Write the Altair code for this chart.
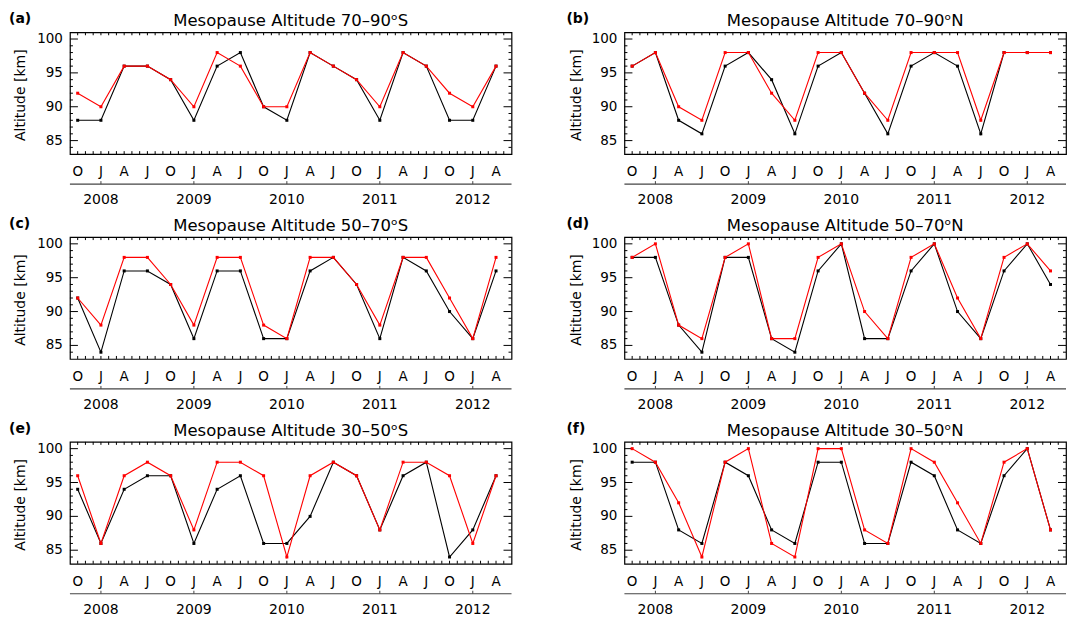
import altair as alt
import pandas as pd

FONT = "DejaVu Sans"
W, H = 442, 122

# ---- data -------------------------------------------------------------
quarter_labels = ["O", "J", "A", "J", "O", "J", "A", "J", "O", "J",
                  "A", "J", "O", "J", "A", "J", "O", "J", "A"]
quarter_months = [0, 3, 6, 9, 12, 15, 18, 21, 24, 27,
                  30, 33, 36, 39, 42, 45, 48, 51, 54]
year_labels = ["2008", "2009", "2010", "2011", "2012"]
year_months = [3, 15, 27, 39, 51]
y_tick_values = [85, 90, 95, 100]
month_ticks = list(range(0, 56))
km_minor = [84, 86, 87, 88, 89, 91, 92, 93, 94, 96, 97, 98, 99]

tags = ["(a)", "(b)", "(c)", "(d)", "(e)", "(f)"]
titles = ["Mesopause Altitude 70–90ᵒS", "Mesopause Altitude 70–90ᵒN",
          "Mesopause Altitude 50–70ᵒS", "Mesopause Altitude 50–70ᵒN",
          "Mesopause Altitude 30–50ᵒS", "Mesopause Altitude 30–50ᵒN"]

a_black = [88, 88, 96, 96, 94, 88, 96, 98, 90, 88, 98, 96, 94, 88, 98, 96, 88, 88, 96]
a_red = [92, 90, 96, 96, 94, 90, 98, 96, 90, 90, 98, 96, 94, 90, 98, 96, 92, 90, 96]
b_black = [96, 98, 88, 86, 96, 98, 94, 86, 96, 98, 92, 86, 96, 98, 96, 86, 98, 98, 98]
b_red = [96, 98, 90, 88, 98, 98, 92, 88, 98, 98, 92, 88, 98, 98, 98, 88, 98, 98, 98]
c_black = [92, 84, 96, 96, 94, 86, 96, 96, 86, 86, 96, 98, 94, 86, 98, 96, 90, 86, 96]
c_red = [92, 88, 98, 98, 94, 88, 98, 98, 88, 86, 98, 98, 94, 88, 98, 98, 92, 86, 98]
d_black = [98, 98, 88, 84, 98, 98, 86, 84, 96, 100, 86, 86, 96, 100, 90, 86, 96, 100, 94]
d_red = [98, 100, 88, 86, 98, 100, 86, 86, 98, 100, 90, 86, 98, 100, 92, 86, 98, 100, 96]
e_black = [94, 86, 94, 96, 96, 86, 94, 96, 86, 86, 90, 98, 96, 88, 96, 98, 84, 88, 96]
e_red = [96, 86, 96, 98, 96, 88, 98, 98, 96, 84, 96, 98, 96, 88, 98, 98, 96, 86, 96]
f_black = [98, 98, 88, 86, 98, 96, 88, 86, 98, 98, 86, 86, 98, 96, 88, 86, 96, 100, 88]
f_red = [100, 98, 92, 84, 98, 100, 86, 84, 100, 100, 88, 86, 100, 98, 92, 86, 98, 100, 88]

series = [(a_black, a_red), (b_black, b_red), (c_black, c_red),
          (d_black, d_red), (e_black, e_red), (f_black, f_red)]

# ---- helpers ------------------------------------------------------------
xs = alt.Scale(domain=[-1, 56], nice=False, zero=False)
ys = alt.Scale(domain=[83, 101], nice=False, zero=False)


def X():
    return alt.X("month:Q", scale=xs, axis=None)


def Y():
    return alt.Y("alt:Q", scale=ys, axis=None)


def panel(i):
    black, red = series[i]
    left_col = (i % 2 == 0)
    tagx = -61 if left_col else -58
    ytx = -49 if left_col else -47
    dfb = pd.DataFrame({"month": quarter_months, "alt": black})
    dfr = pd.DataFrame({"month": quarter_months, "alt": red})
    mt = pd.DataFrame({"month": month_ticks})
    kmin = pd.DataFrame({"alt": km_minor})
    kmaj = pd.DataFrame({"alt": y_tick_values})
    ql = pd.DataFrame({"month": quarter_months, "label": quarter_labels})
    yl = pd.DataFrame({"month": year_months, "label": year_labels})
    one = pd.DataFrame({"t": [titles[i]], "g": [tags[i]], "a": ["Altitude [km]"]})

    layers = [
        # tick marks (inward)
        alt.Chart(mt).mark_rule(color="black", strokeWidth=1).encode(
            x=X(), y=alt.value(H), y2=alt.value(H - 3)),
        alt.Chart(mt).mark_rule(color="black", strokeWidth=1).encode(
            x=X(), y=alt.value(0), y2=alt.value(3)),
        alt.Chart(kmin).mark_rule(color="black", strokeWidth=1).encode(
            y=Y(), x=alt.value(0), x2=alt.value(3)),
        alt.Chart(kmaj).mark_rule(color="black", strokeWidth=1).encode(
            y=Y(), x=alt.value(0), x2=alt.value(8)),
        alt.Chart(kmin).mark_rule(color="black", strokeWidth=1).encode(
            y=Y(), x=alt.value(W), x2=alt.value(W - 3)),
        alt.Chart(kmaj).mark_rule(color="black", strokeWidth=1).encode(
            y=Y(), x=alt.value(W), x2=alt.value(W - 8)),
        # y tick labels
        alt.Chart(kmaj).mark_text(align="right", baseline="middle", font=FONT,
                                  fontSize=13.5, color="black").encode(
            y=Y(), x=alt.value(-7), text=alt.Text("alt:Q")),
        # month labels
        alt.Chart(ql).mark_text(align="center", baseline="alphabetic", font=FONT,
                                fontSize=13.5, color="black").encode(
            x=X(), y=alt.value(H + 22), text="label:N"),
        # year line, ticks and labels
        alt.Chart(one).mark_rule(color="#444444", strokeWidth=1.2).encode(
            x=alt.value(0), x2=alt.value(W), y=alt.value(H + 30)),
        alt.Chart(yl).mark_rule(color="#444444", strokeWidth=1).encode(
            x=X(), y=alt.value(H + 30), y2=alt.value(H + 27)),
        alt.Chart(yl).mark_text(align="center", baseline="alphabetic", font=FONT,
                                fontSize=14, color="black").encode(
            x=X(), y=alt.value(H + 50), text="label:N"),
        # titles
        alt.Chart(one).mark_text(align="center", baseline="alphabetic", font=FONT,
                                 fontSize=16.5, color="black").encode(
            x=alt.value(W / 2), y=alt.value(-6), text="t:N"),
        alt.Chart(one).mark_text(align="left", baseline="alphabetic", font=FONT,
                                 fontSize=14, fontWeight="bold", color="black").encode(
            x=alt.value(tagx), y=alt.value(-9), text="g:N"),
        alt.Chart(one).mark_text(align="center", baseline="middle", font=FONT,
                                 fontSize=14, angle=270, color="black").encode(
            x=alt.value(ytx), y=alt.value(H / 2 + 2), text="a:N"),
        # data
        alt.Chart(dfb).mark_line(color="black", strokeWidth=1.1).encode(x=X(), y=Y()),
        alt.Chart(dfb).mark_point(shape="square", filled=True, size=9, color="black",
                                  opacity=1).encode(x=X(), y=Y()),
        alt.Chart(dfr).mark_line(color="#ff0000", strokeWidth=1.1).encode(x=X(), y=Y()),
        alt.Chart(dfr).mark_point(shape="square", filled=True, size=9, color="#ff0000",
                                  opacity=1).encode(x=X(), y=Y()),
    ]
    if i == 0:
        # invisible anchor fixing the page's top-left origin
        layers.append(alt.Chart(one).mark_rule(opacity=0, strokeWidth=0).encode(
            x=alt.value(-69), x2=alt.value(-68), y=alt.value(-31), y2=alt.value(-31)))
    return alt.layer(*layers).properties(width=W, height=H)


chart = alt.concat(*[panel(i) for i in range(6)], columns=2,
                   spacing={"row": 83, "column": 113}, bounds="flush").properties(
    padding=0
).configure_view(stroke="black", strokeWidth=1.2)

chart.save("out.html", embed_options={"renderer": "svg", "actions": False})
